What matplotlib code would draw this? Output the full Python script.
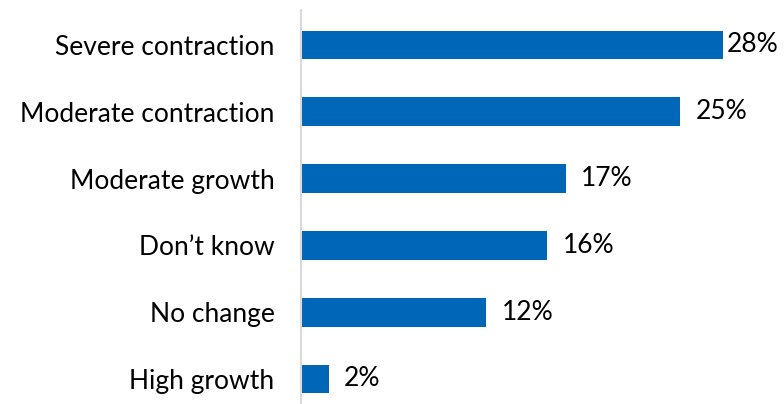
import matplotlib
matplotlib.use("Agg")
import matplotlib.pyplot as plt

categories = ["Severe contraction", "Moderate contraction", "Moderate growth",
              "Don\u2019t know", "No change", "High growth"]
values = [27.6, 24.8, 17.3, 16.1, 12.1, 1.8]
labels = ["28%", "25%", "17%", "16%", "12%", "2%"]

plt.rcParams['font.family'] = ['Lato', 'DejaVu Sans']
FS = 19

W, H = 784, 404
fig = plt.figure(figsize=(W / 100, H / 100), dpi=100)
ax_left, ax_top, ax_bottom = 301, 10, 404
ax = fig.add_axes([ax_left / W, 1 - ax_bottom / H, (W - ax_left) / W, (ax_bottom - ax_top) / H])

px_per_unit = 15.3
xmax = (W - ax_left) / px_per_unit
ypos = list(range(len(categories)))
ax.barh(ypos, values, height=0.43, color="#0066B8")
ax.set_xlim(0, xmax)
step = 66.8
ax.set_ylim((ax_bottom - 45) / step, (ax_top - 45) / step)

ax.set_yticks(ypos)
ax.set_yticklabels(categories, fontsize=FS, color="#000000")
ax.tick_params(axis='y', length=0, pad=19)
ax.set_xticks([])
for s in ['top', 'right', 'bottom']:
    ax.spines[s].set_visible(False)
ax.spines['left'].set_color("#D9D9D9")
ax.spines['left'].set_linewidth(1.5)

fig.canvas.draw()
renderer = fig.canvas.get_renderer()
for y, v, lab in zip(ypos, values, labels):
    t = ax.annotate(lab, xy=(v, y), xytext=(11, 0), textcoords='offset points',
                    va='center', ha='left', fontsize=FS, color="#000000")
    bb = t.get_window_extent(renderer)
    if bb.x1 > W - 4:
        t.remove()
        ax.annotate(lab, xy=(1, y), xycoords=('axes fraction', 'data'),
                    xytext=(-4, 0), textcoords='offset points',
                    va='center', ha='right', fontsize=FS, color="#000000")

fig.savefig("out.png", dpi=100)
